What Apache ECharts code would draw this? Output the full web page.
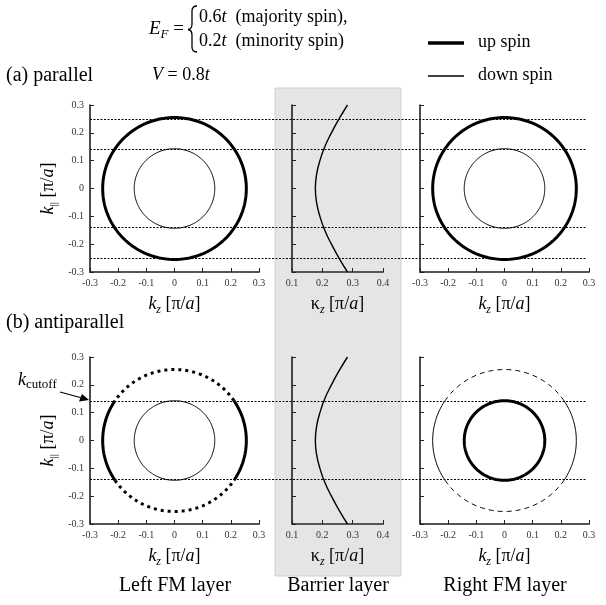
<!DOCTYPE html>
<html><head><meta charset="utf-8">
<script src="https://cdn.jsdelivr.net/npm/echarts@6/dist/echarts.min.js"></script>
<style>html,body{margin:0;padding:0;background:#fff}#c{width:606px;height:605px}</style>
</head><body><div id="c"></div>
<script>
// ---- data ----
const kTicks = [-0.3, -0.2, -0.1, 0, 0.1, 0.2, 0.3];
const kappaTicks = [0.1, 0.2, 0.3, 0.4];
// barrier decay constant kappa_z vs k_parallel
const kPar  = [-0.3, -0.25, -0.2, -0.15, -0.1, -0.05, 0, 0.05, 0.1, 0.15, 0.2, 0.25, 0.3];
const kappa = [0.283, 0.255, 0.230, 0.208, 0.192, 0.181, 0.177, 0.181, 0.192, 0.208, 0.230, 0.255, 0.283];
// Fermi radii: majority, minority
const kFermi = [0.255, 0.143];
const cutoffParallel = [0.253, 0.143, -0.143, -0.253];
const cutoffAnti = [0.143, -0.143];
const spinNames = ['up spin', 'down spin'];
const layerNames = ['Left FM layer', 'Barrier layer', 'Right FM layer'];

// rings: [radius, cutoff, thick]
const ringsALeft  = [[kFermi[0], kFermi[0], 1], [kFermi[1], kFermi[1], 0]];
const ringsARight = [[kFermi[0], kFermi[0], 1], [kFermi[1], kFermi[1], 0]];
const ringsBLeft  = [[kFermi[0], cutoffAnti[0], 1], [kFermi[1], kFermi[1], 0]];
const ringsBRight = [[kFermi[1], kFermi[1], 1], [kFermi[0], cutoffAnti[0], 0]];

const FONT = 'Liberation Serif';
const chart = echarts.init(document.getElementById('c'), null, {renderer: 'canvas'});

const richName = {
  n: {fontFamily: FONT, fontSize: 18, color: '#000', lineHeight: 24, verticalAlign: 'middle'},
  i: {fontFamily: FONT, fontSize: 18, fontStyle: 'italic', color: '#000', lineHeight: 24, verticalAlign: 'middle'},
  s: {fontFamily: FONT, fontSize: 12, fontStyle: 'italic', color: '#000', lineHeight: 12, verticalAlign: 'bottom'},
  sn: {fontFamily: FONT, fontSize: 11, color: '#000', lineHeight: 12, verticalAlign: 'bottom'}
};

const fmt = v => String(+(+v).toFixed(1));

function xAx(gi, min, max, name) {
  return {
    type: 'value', gridIndex: gi, min: min, max: max, interval: 0.1,
    axisLine: {show: true, onZero: false, lineStyle: {color: '#555', width: 2}},
    axisTick: {show: true, inside: true, length: 4, lineStyle: {color: '#222', width: 1}},
    axisLabel: {show: true, fontFamily: FONT, fontSize: 10, color: '#333', margin: 6, formatter: fmt},
    splitLine: {show: false},
    name: name, nameLocation: 'middle', nameGap: 20,
    nameTextStyle: {rich: richName}
  };
}
function yAx(gi, showLabel, name) {
  return {
    type: 'value', gridIndex: gi, min: -0.3, max: 0.3, interval: 0.1,
    axisLine: {show: true, onZero: false, lineStyle: {color: '#111', width: 1.5}},
    axisTick: {show: true, inside: true, length: 4, lineStyle: {color: '#222', width: 1}},
    axisLabel: {show: showLabel, fontFamily: FONT, fontSize: 10, color: '#333', margin: 6, formatter: fmt},
    splitLine: {show: false},
    name: name || '', nameLocation: 'middle', nameGap: 30, nameRotate: 90,
    nameTextStyle: {rich: richName}
  };
}
function hidX(gi) { return {type: 'value', gridIndex: gi, min: 0, max: 1, show: false}; }
function hidY(gi) { return {type: 'value', gridIndex: gi, min: -0.3, max: 0.3, show: false}; }

const kzName = '{i|k}{s|z}{n| [π/}{i|a}{n|]}';
const kappaName = '{n|κ}{s|z}{n| [π/}{i|a}{n|]}';
const kparName = '{i|k}{sn|||}{n| [π/}{i|a}{n|]}';

function ringRender(params, api) {
  const r = api.value(0), cut = api.value(1), thick = api.value(2);
  const lw = thick ? 3 : 1;
  const dash = thick ? [3, 4] : [5, 4];
  function arc(a0, a1, dashed) {
    const pts = [];
    const n = Math.max(8, Math.ceil((a1 - a0) / (Math.PI / 120)));
    for (let i = 0; i <= n; i++) {
      const t = a0 + (a1 - a0) * i / n;
      pts.push(api.coord([r * Math.cos(t), r * Math.sin(t)]));
    }
    return {type: 'polyline', silent: true, shape: {points: pts},
      style: {stroke: '#000', lineWidth: lw, fill: null, lineDash: dashed ? dash : null, lineJoin: 'round'}};
  }
  const children = [];
  if (cut >= r) {
    children.push(arc(0, 2 * Math.PI, false));
  } else {
    const tc = Math.asin(cut / r);
    children.push(arc(-tc, tc, false), arc(tc, Math.PI - tc, true),
                  arc(Math.PI - tc, Math.PI + tc, false), arc(Math.PI + tc, 2 * Math.PI - tc, true));
  }
  return {type: 'group', children: children};
}
function ringSeries(idx, data) {
  return {type: 'custom', xAxisIndex: idx, yAxisIndex: idx, data: data,
    encode: {x: 0, y: 1}, renderItem: ringRender, silent: true, z: 3};
}
function cutSeries(idx, cuts) {
  return {type: 'line', xAxisIndex: idx, yAxisIndex: idx, data: [], silent: true, z: 4,
    markLine: {silent: true, symbol: ['none', 'none'], label: {show: false},
      lineStyle: {type: [2, 1.5], color: '#000', width: 1},
      data: cuts.map(c => ({yAxis: c}))}};
}
const barrierData = kPar.map((k, i) => [kappa[i], k]);
function barrierSeries(idx) {
  return {type: 'line', xAxisIndex: idx, yAxisIndex: idx, data: barrierData, smooth: true,
    showSymbol: false, symbol: 'none', silent: true, lineStyle: {color: '#000', width: 1.4}, z: 3};
}

const topA = 105, topB = 357, H = 167;
const grids = [
  {left: 90, top: topA, width: 169, height: H},
  {left: 292, top: topA, width: 91, height: H},
  {left: 420, top: topA, width: 169, height: H},
  {left: 90, top: topB, width: 169, height: H},
  {left: 292, top: topB, width: 91, height: H},
  {left: 420, top: topB, width: 169, height: H},
  {left: 90, top: topA, width: 496, height: H},
  {left: 90, top: topB, width: 496, height: H}
];

function qc(x1, y1, cx, cy, x2, y2) {
  return {type: 'bezierCurve', silent: true, shape: {x1: x1, y1: y1, cpx1: cx, cpy1: cy, x2: x2, y2: y2},
    style: {stroke: '#000', lineWidth: 1.3, fill: null}};
}
function ln(x1, y1, x2, y2, w) {
  return {type: 'line', silent: true, shape: {x1: x1, y1: y1, x2: x2, y2: y2}, style: {stroke: '#000', lineWidth: w}};
}

const option = {
  animation: false,
  backgroundColor: '#fff',
  grid: grids,
  xAxis: [
    xAx(0, -0.3, 0.3, kzName), xAx(1, 0.1, 0.4, kappaName), xAx(2, -0.3, 0.3, kzName),
    xAx(3, -0.3, 0.3, kzName), xAx(4, 0.1, 0.4, kappaName), xAx(5, -0.3, 0.3, kzName),
    hidX(6), hidX(7)
  ],
  yAxis: [
    yAx(0, true, kparName), yAx(1, false), yAx(2, false),
    yAx(3, true, kparName), yAx(4, false), yAx(5, false),
    hidY(6), hidY(7)
  ],
  series: [
    ringSeries(0, ringsALeft), barrierSeries(1), ringSeries(2, ringsARight),
    ringSeries(3, ringsBLeft), barrierSeries(4), ringSeries(5, ringsBRight),
    cutSeries(6, cutoffParallel), cutSeries(7, cutoffAnti)
  ],
  graphic: [
    {type: 'rect', z: -10, silent: true, shape: {x: 275, y: 88, width: 126, height: 488},
      style: {fill: '#e5e5e5', stroke: '#cfcfcf', lineWidth: 1}},
    // E_F formula
    {type: 'text', x: 184, y: 29, silent: true, style: {
      text: '{i|E}{s|F}{n| =}', align: 'right', verticalAlign: 'middle',
      rich: {
        n: {fontFamily: FONT, fontSize: 19, color: '#000', lineHeight: 24, verticalAlign: 'middle'},
        i: {fontFamily: FONT, fontSize: 19, fontStyle: 'italic', color: '#000', lineHeight: 24, verticalAlign: 'middle'},
        s: {fontFamily: FONT, fontSize: 13, fontStyle: 'italic', color: '#000', lineHeight: 12, verticalAlign: 'bottom'}
      }}},
    qc(197, 6, 192, 6, 192, 11), ln(192, 11, 192, 24, 1.3), qc(192, 24, 192, 29, 188, 29.5),
    qc(188, 29.5, 192, 30, 192, 35), ln(192, 35, 192, 47, 1.3), qc(192, 47, 192, 52, 197, 52),
    {type: 'text', x: 199, y: 17, silent: true, style: {
      text: '{n|0.6}{i|t}{n|  (majority spin),}', verticalAlign: 'middle',
      rich: {n: {fontFamily: FONT, fontSize: 18, color: '#000'}, i: {fontFamily: FONT, fontSize: 18, fontStyle: 'italic', color: '#000'}}}},
    {type: 'text', x: 199, y: 41, silent: true, style: {
      text: '{n|0.2}{i|t}{n|  (minority spin)}', verticalAlign: 'middle',
      rich: {n: {fontFamily: FONT, fontSize: 18, color: '#000'}, i: {fontFamily: FONT, fontSize: 18, fontStyle: 'italic', color: '#000'}}}},
    // panel labels
    {type: 'text', x: 6, y: 76, silent: true, style: {text: '(a) parallel', fontFamily: FONT, fontSize: 20, fill: '#000', verticalAlign: 'middle'}},
    {type: 'text', x: 152, y: 75, silent: true, style: {
      text: '{i|V}{n| = 0.8}{i|t}', verticalAlign: 'middle',
      rich: {n: {fontFamily: FONT, fontSize: 18, color: '#000'}, i: {fontFamily: FONT, fontSize: 18, fontStyle: 'italic', color: '#000'}}}},
    {type: 'text', x: 6, y: 323, silent: true, style: {text: '(b) antiparallel', fontFamily: FONT, fontSize: 20, fill: '#000', verticalAlign: 'middle'}},
    // legend
    ln(428, 43, 464, 43, 3.5),
    {type: 'text', x: 478, y: 42, silent: true, style: {text: spinNames[0], fontFamily: FONT, fontSize: 18, fill: '#000', verticalAlign: 'middle'}},
    ln(428, 76, 464, 76, 1.5),
    {type: 'text', x: 478, y: 75, silent: true, style: {text: spinNames[1], fontFamily: FONT, fontSize: 18, fill: '#000', verticalAlign: 'middle'}},
    // k_cutoff
    {type: 'text', x: 18, y: 380, silent: true, style: {
      text: '{i|k}{s|cutoff}', verticalAlign: 'middle',
      rich: {
        i: {fontFamily: FONT, fontSize: 18, fontStyle: 'italic', color: '#000', lineHeight: 22, verticalAlign: 'middle'},
        s: {fontFamily: FONT, fontSize: 13, color: '#000', lineHeight: 12, verticalAlign: 'bottom'}
      }}},
    ln(60, 392, 82, 398, 1.2),
    {type: 'polygon', silent: true, shape: {points: [[89, 400], [79, 401.5], [82, 394]]}, style: {fill: '#000'}},
    // bottom labels
    {type: 'text', x: 175, y: 586, silent: true, style: {text: layerNames[0], fontFamily: FONT, fontSize: 20, fill: '#000', align: 'center', verticalAlign: 'middle'}},
    {type: 'text', x: 338, y: 586, silent: true, style: {text: layerNames[1], fontFamily: FONT, fontSize: 20, fill: '#000', align: 'center', verticalAlign: 'middle'}},
    {type: 'text', x: 505, y: 586, silent: true, style: {text: layerNames[2], fontFamily: FONT, fontSize: 20, fill: '#000', align: 'center', verticalAlign: 'middle'}}
  ]
};
chart.setOption(option);
</script></body></html>
